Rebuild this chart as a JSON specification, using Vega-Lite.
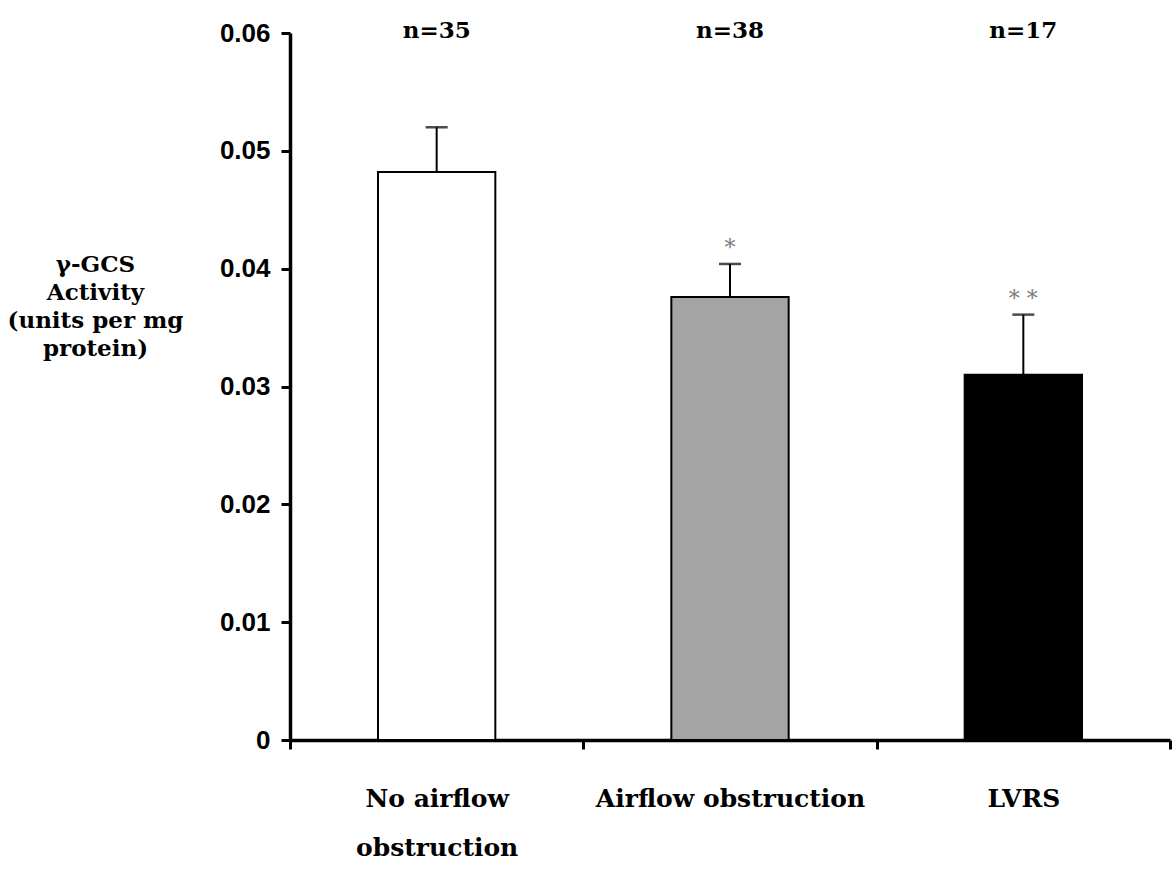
{
  "$schema": "https://vega.github.io/schema/vega-lite/v6.json",
  "width": 880,
  "height": 707,
  "autosize": "none",
  "padding": {"left": 290, "top": 33, "right": 3, "bottom": 136},
  "background": "white",
  "config": {
    "view": {"stroke": null}
  },
  "data": {
    "values": [
      {"group": "No airflow obstruction", "activity": 0.0482, "upper": 0.0520, "n": "n=35", "sig": ""},
      {"group": "Airflow obstruction", "activity": 0.0376, "upper": 0.0404, "n": "n=38", "sig": "*"},
      {"group": "LVRS", "activity": 0.0310, "upper": 0.0361, "n": "n=17", "sig": "* *"}
    ]
  },
  "encoding": {
    "x": {
      "field": "group",
      "type": "nominal",
      "sort": null,
      "scale": {"paddingInner": 0, "paddingOuter": 0},
      "axis": {
        "title": null,
        "labelAngle": 0,
        "labelLimit": 0,
        "tickBand": "extent",
        "domainColor": "black",
        "domainWidth": 3.5,
        "tickColor": "black",
        "tickWidth": 3,
        "tickSize": 9,
        "labelPadding": 37,
        "labelFont": "DejaVu Serif",
        "labelFontWeight": "bold",
        "labelFontSize": 25,
        "labelColor": "black",
        "labelLineHeight": 49,
        "labelExpr": "datum.label == 'No airflow obstruction' ? ['No airflow', 'obstruction'] : datum.label"
      }
    }
  },
  "layer": [
    {
      "mark": {"type": "bar", "width": {"band": 0.4}, "stroke": "black", "strokeWidth": 2},
      "encoding": {
        "y": {
          "field": "activity",
          "type": "quantitative",
          "scale": {"domain": [0, 0.06], "nice": false},
          "axis": {
            "values": [0, 0.01, 0.02, 0.03, 0.04, 0.05, 0.06],
            "format": ".2~f",
            "grid": false,
            "domainColor": "black",
            "domainWidth": 3.5,
            "tickColor": "black",
            "tickWidth": 3,
            "tickSize": 9,
            "labelPadding": 11,
            "labelFont": "Liberation Sans",
            "labelFontWeight": "bold",
            "labelFontSize": 26,
            "labelColor": "black",
            "title": ["γ-GCS", "Activity", "(units per mg", "protein)"],
            "titleAngle": 0,
            "titleAlign": "center",
            "titleBaseline": "alphabetic",
            "titleX": -195,
            "titleY": 238,
            "titleFont": "DejaVu Serif",
            "titleFontWeight": "bold",
            "titleFontSize": 23,
            "titleLineHeight": 28,
            "titleColor": "black"
          }
        },
        "fill": {
          "field": "group",
          "type": "nominal",
          "sort": null,
          "scale": {"range": ["#ffffff", "#a4a4a4", "#000000"]},
          "legend": null
        }
      }
    },
    {
      "mark": {"type": "rule", "color": "black", "strokeWidth": 2},
      "encoding": {
        "y": {"field": "activity", "type": "quantitative"},
        "y2": {"field": "upper"}
      }
    },
    {
      "mark": {"type": "tick", "color": "black", "thickness": 2.5, "size": 22, "orient": "horizontal"},
      "encoding": {
        "y": {"field": "upper", "type": "quantitative"}
      }
    },
    {
      "mark": {"type": "text", "font": "DejaVu Serif", "fontSize": 22, "color": "#7a7a7a", "baseline": "bottom", "dy": -4},
      "encoding": {
        "y": {"field": "upper", "type": "quantitative"},
        "text": {"field": "sig"}
      }
    },
    {
      "mark": {"type": "text", "font": "DejaVu Serif", "fontWeight": "bold", "fontSize": 23, "color": "black", "baseline": "alphabetic", "dy": 5},
      "encoding": {
        "y": {"datum": 0.06},
        "text": {"field": "n"}
      }
    }
  ]
}
